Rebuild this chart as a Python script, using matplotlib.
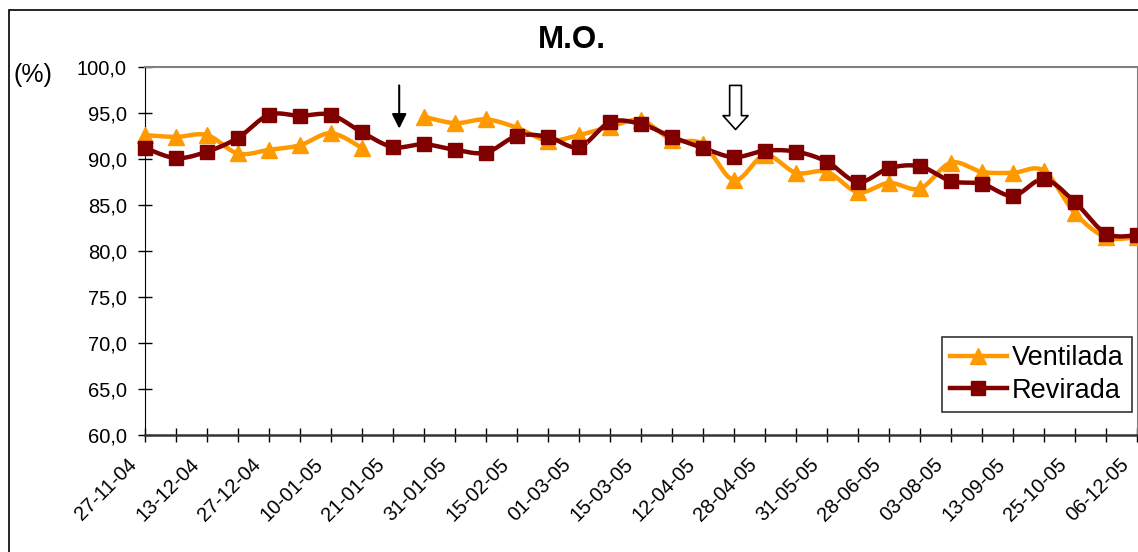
import numpy as np
import matplotlib.pyplot as plt
import matplotlib.transforms as mtransforms
from matplotlib.lines import Line2D
from matplotlib.patches import Rectangle

plt.rcParams['font.family'] = ['Liberation Sans', 'DejaVu Sans']

# rótulos do eixo x (um a cada duas amostras)
rotulos = ['27-11-04', '13-12-04', '27-12-04', '10-01-05', '21-01-05', '31-01-05',
           '15-02-05', '01-03-05', '15-03-05', '12-04-05', '28-04-05', '31-05-05',
           '28-06-05', '03-08-05', '13-09-05', '25-10-05', '06-12-05']

# matéria orgânica (%) por amostragem
ventilada = [92.6, 92.4, 92.6, 90.6, 91.0, 91.5, 92.8, 91.2, np.nan, 94.6, 93.9,
             94.3, 93.4, 92.0, 92.6, 93.5, 94.2, 92.1, 91.6, 87.7, 90.4, 88.5,
             88.6, 86.4, 87.4, 86.8, 89.6, 88.6, 88.5, 88.7, 84.1, 81.5, 81.5]
revirada = [91.2, 90.1, 90.8, 92.3, 94.8, 94.7, 94.8, 92.9, 91.3, 91.6, 91.0,
            90.7, 92.5, 92.4, 91.3, 94.0, 93.8, 92.4, 91.2, 90.2, 90.9, 90.8,
            89.7, 87.5, 89.0, 89.2, 87.6, 87.3, 86.0, 87.8, 85.3, 81.9, 81.7]

COR_V = '#FF9900'
COR_R = '#800000'


def suavizar(x, y, passos=20):
    # curva tipo Catmull-Rom (como a linha suavizada do Excel), quebrando nos NaN
    x = np.asarray(x, float)
    y = np.asarray(y, float)
    trechos = []
    ok = ~np.isnan(y)
    i = 0
    while i < len(y):
        if not ok[i]:
            i += 1
            continue
        j = i
        while j < len(y) and ok[j]:
            j += 1
        px, py = x[i:j], y[i:j]
        if len(px) < 2:
            trechos.append((px, py))
        else:
            cx, cy = [px[0]], [py[0]]
            n = len(px)
            for k in range(n - 1):
                p0 = max(k - 1, 0)
                p3 = min(k + 2, n - 1)
                b1x = px[k] + (px[k + 1] - px[p0]) / 6
                b1y = py[k] + (py[k + 1] - py[p0]) / 6
                b2x = px[k + 1] - (px[p3] - px[k]) / 6
                b2y = py[k + 1] - (py[p3] - py[k]) / 6
                t = np.linspace(0, 1, passos)[1:]
                a = (1 - t) ** 3
                b = 3 * (1 - t) ** 2 * t
                c = 3 * (1 - t) * t ** 2
                d = t ** 3
                cx.extend(a * px[k] + b * b1x + c * b2x + d * px[k + 1])
                cy.extend(a * py[k] + b * b1y + c * b2y + d * py[k + 1])
            trechos.append((np.array(cx), np.array(cy)))
        i = j
    return trechos


fig = plt.figure(figsize=(11.38, 5.52), dpi=100)
ax = fig.add_axes([145 / 1138, 1 - 435 / 552, 992 / 1138, 368 / 552])

x = np.arange(len(revirada))

for serie, cor, marc, ms in [(ventilada, COR_V, '^', 12), (revirada, COR_R, 's', 10.5)]:
    for sx, sy in suavizar(x, serie):
        ax.plot(sx, sy, color=cor, lw=3.2, solid_capstyle='round', clip_on=False, zorder=3)
    ax.plot(x, serie, ls='none', marker=marc, ms=ms, color=cor, mec=cor,
            clip_on=False, zorder=4)

ax.set_xlim(0, len(revirada) - 1)
ax.set_ylim(60, 100)
ax.set_yticks(np.arange(60, 100.1, 5))
ax.set_yticklabels([f'{v:.1f}'.replace('.', ',') for v in np.arange(60, 100.1, 5)])
ax.set_xticks(x)
ax.set_xticklabels([rotulos[i // 2] if i % 2 == 0 else '' for i in x],
                   rotation=45, ha='right', va='center', rotation_mode='anchor')
ax.tick_params(axis='both', direction='inout', length=10, width=1, labelsize=14.5,
               color='black')
ax.tick_params(axis='y', pad=8)
ax.tick_params(axis='x', pad=14)

# desloca os rótulos de data um pouco para a esquerda
desloc = mtransforms.ScaledTranslation(-11 / 100, 0, fig.dpi_scale_trans)
for lab in ax.get_xticklabels():
    lab.set_transform(lab.get_transform() + desloc)

ax.spines['left'].set_color('black')
ax.spines['bottom'].set_color('#333333')
ax.spines['bottom'].set_linewidth(1.8)
ax.spines['top'].set_color('#808080')
ax.spines['right'].set_color('#808080')
ax.spines['top'].set_linewidth(1.5)

# setas indicando as mudanças de manejo
ax.annotate('', xy=(8.2, 93.0), xytext=(8.2, 98.3),
            arrowprops=dict(arrowstyle='-|>', color='black', lw=1.5, mutation_scale=22))
ax.annotate('', xy=(19.05, 92.9), xytext=(19.05, 98.3),
            arrowprops=dict(arrowstyle='simple,head_length=1.0,head_width=1.8,tail_width=0.85',
                            fc='white', ec='black', lw=1.2, mutation_scale=10))

handles = [Line2D([], [], color=COR_V, lw=3.2, marker='^', ms=12, label='Ventilada'),
           Line2D([], [], color=COR_R, lw=3.2, marker='s', ms=10.5, label='Revirada')]
leg = ax.legend(handles=handles, loc='lower right', bbox_to_anchor=(0.995, 0.0625),
                fontsize=19.5, frameon=True, fancybox=False, handlelength=2.1,
                handletextpad=0.2, borderpad=0.3, labelspacing=0.25, borderaxespad=0)
leg.get_frame().set_edgecolor('black')
leg.get_frame().set_linewidth(1.2)

fig.text(572 / 1138, 1 - 40 / 552, 'M.O.', ha='center', va='center',
         fontsize=22.5, fontweight='bold')
fig.text(33 / 1138, 1 - 75 / 552, '(%)', ha='center', va='center', fontsize=18)

fig.add_artist(Rectangle((9 / 1138, -0.1), 1.2, 1.1 - 10 / 552,
                         transform=fig.transFigure, fill=False, ec='black', lw=1.2))

fig.savefig('out.png', dpi=100)
